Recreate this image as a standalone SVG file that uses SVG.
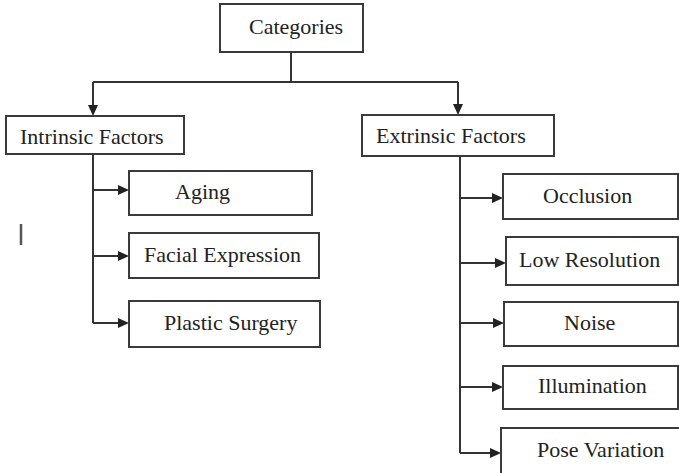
<svg xmlns="http://www.w3.org/2000/svg" width="679" height="473" viewBox="0 0 679 473">
  <defs>
    <style>
      .box { fill: #fff; stroke: #3a3a3a; stroke-width: 2; }
      .lbl { font-family: 'Liberation Serif', 'Times New Roman', 'Noto Serif', 'DejaVu Serif', serif; font-size: 22px; fill: #222; }
      .wire { fill: none; stroke: #333; stroke-width: 2; }
      .head { fill: #222; }
    </style>
    <!-- arrowhead pointing right, tip at origin -->
    <path id="ah" class="head" d="M0,0 L-11,-5 L-11,5 Z"/>
  </defs>
  <rect width="679" height="473" fill="#fff"/>

  <!-- connectors -->
  <g id="connectors">
    <path class="wire" d="M291,52 V82 M93,82 H458"/>
    <path class="wire" d="M93,82 V106 M458,82 V105"/>
    <use href="#ah" transform="translate(93,116) rotate(90)"/>
    <use href="#ah" transform="translate(458,115) rotate(90)"/>
    <!-- intrinsic branches -->
    <path class="wire" d="M93,154 V323 M93,190 H119 M93,256 H119 M93,323 H119"/>
    <use href="#ah" transform="translate(129,190)"/>
    <use href="#ah" transform="translate(129,256)"/>
    <use href="#ah" transform="translate(129,323)"/>
    <!-- extrinsic branches -->
    <path class="wire" d="M460,157 V453 M460,198 H493 M460,263 H496 M460,323 H494 M460,387 H493 M460,453 H491"/>
    <use href="#ah" transform="translate(503,198)"/>
    <use href="#ah" transform="translate(506,263)"/>
    <use href="#ah" transform="translate(504,323)"/>
    <use href="#ah" transform="translate(503,387)"/>
    <use href="#ah" transform="translate(501,453)"/>
  </g>

  <!-- stray tick mark -->
  <line x1="21" y1="224" x2="21" y2="245" stroke="#555" stroke-width="2.5"/>

  <g id="categories">
    <rect class="box" x="220" y="4" width="143" height="48"/>
    <text class="lbl" x="249" y="34">Categories</text>
  </g>
  <g id="intrinsic">
    <rect class="box" x="6" y="116" width="178" height="38"/>
    <text class="lbl" x="20" y="144">Intrinsic Factors</text>
  </g>
  <g id="extrinsic">
    <rect class="box" x="362" y="115" width="192" height="41"/>
    <text class="lbl" x="376" y="143">Extrinsic Factors</text>
  </g>
  <g id="aging">
    <rect class="box" x="129" y="171" width="183" height="44"/>
    <text class="lbl" x="175" y="199">Aging</text>
  </g>
  <g id="facial-expression">
    <rect class="box" x="129" y="233" width="190" height="45"/>
    <text class="lbl" x="144" y="262">Facial Expression</text>
  </g>
  <g id="plastic-surgery">
    <rect class="box" x="129" y="301" width="191" height="46"/>
    <text class="lbl" x="164" y="330">Plastic Surgery</text>
  </g>
  <g id="occlusion">
    <rect class="box" x="503" y="174" width="175" height="45"/>
    <text class="lbl" x="543" y="203">Occlusion</text>
  </g>
  <g id="low-resolution">
    <rect class="box" x="506" y="237" width="172" height="48"/>
    <text class="lbl" x="519" y="267">Low Resolution</text>
  </g>
  <g id="noise">
    <rect class="box" x="504" y="302" width="174" height="44"/>
    <text class="lbl" x="564" y="330">Noise</text>
  </g>
  <g id="illumination">
    <rect class="box" x="503" y="366" width="175" height="43"/>
    <text class="lbl" x="538" y="393">Illumination</text>
  </g>
  <g id="pose-variation">
    <rect class="box" x="501" y="428" width="180" height="46"/>
    <text class="lbl" x="537" y="457">Pose Variation</text>
  </g>
</svg>
